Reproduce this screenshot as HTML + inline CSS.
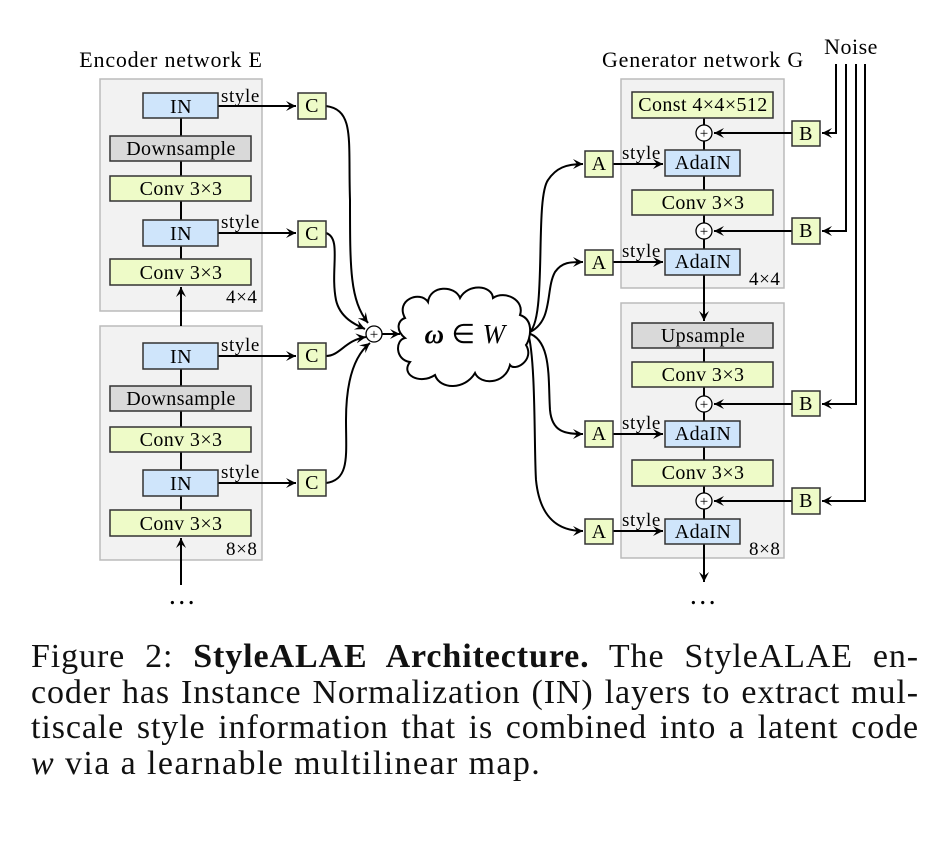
<!DOCTYPE html>
<html><head><meta charset="utf-8"><style>
body{margin:0;background:#fff;width:948px;height:856px;overflow:hidden}
svg{position:absolute;left:0;top:0}
.cap{position:absolute;left:31px;top:639px;width:888px;font-family:'Liberation Serif','Times New Roman',serif;font-size:34px;letter-spacing:0.9px;line-height:35.5px;color:#111}
.cap div{text-align:justify;text-align-last:justify;white-space:nowrap}
.cap div.l{text-align-last:left;letter-spacing:1.4px}
svg text{font-family:'Liberation Serif','Times New Roman',serif}
</style></head><body>
<svg width="948" height="640" viewBox="0 0 948 640" font-size="20" letter-spacing="0.4">
<defs><marker id="ar" markerWidth="12" markerHeight="12" refX="10" refY="6" orient="auto" markerUnits="userSpaceOnUse"><path d="M0,1 L10,6 L0,11 L4,6 Z" fill="#000"/></marker></defs>
<g stroke="#bbb" stroke-width="1.5" fill="#f2f2f2">
<rect x="100" y="79" width="162" height="232"/><rect x="100" y="326" width="162" height="234"/>
<rect x="621" y="79" width="163" height="209"/><rect x="621" y="303" width="163" height="255"/>
</g>
<g fill="none" stroke="#000" stroke-width="2">
<line x1="181" y1="118" x2="181" y2="285"/><line x1="181" y1="326" x2="181" y2="287" marker-end="url(#ar)"/>
<line x1="181" y1="369" x2="181" y2="536"/><line x1="181" y1="585" x2="181" y2="538" marker-end="url(#ar)"/>
<line x1="704" y1="118" x2="704" y2="275"/><line x1="704" y1="275" x2="704" y2="321" marker-end="url(#ar)"/>
<line x1="704" y1="348" x2="704" y2="544"/><line x1="704" y1="544" x2="704" y2="582" marker-end="url(#ar)"/>
<line x1="218" y1="106" x2="296" y2="106" marker-end="url(#ar)"/>
<line x1="218" y1="233" x2="296" y2="233" marker-end="url(#ar)"/>
<line x1="218" y1="356" x2="296" y2="356" marker-end="url(#ar)"/>
<line x1="218" y1="483" x2="296" y2="483" marker-end="url(#ar)"/>
<path d="M326,106 C355,110 348,140 350,200 C350,270 350,300 368,323" marker-end="url(#ar)"/>
<path d="M326,233 C342,238 330,270 336,300 C340,318 356,325 365,329" marker-end="url(#ar)"/>
<path d="M326,356 C340,356 345,340 366,337" marker-end="url(#ar)"/>
<path d="M326,483 C350,480 346,455 346,420 C346,380 355,355 370,343" marker-end="url(#ar)"/>
<line x1="382" y1="334" x2="400" y2="334" marker-end="url(#ar)"/>
<path d="M528,333 C548,325 534,200 548,180 C556,168 566,164 583,164" marker-end="url(#ar)"/>
<path d="M528,333 C554,322 545,290 555,272 C562,262 570,262 583,262" marker-end="url(#ar)"/>
<path d="M528,333 C552,340 548,380 550,410 C552,432 565,434 583,434" marker-end="url(#ar)"/>
<path d="M528,333 C536,360 534,450 536,480 C540,520 560,531 583,531" marker-end="url(#ar)"/>
<line x1="613" y1="164" x2="663" y2="164" marker-end="url(#ar)"/>
<line x1="613" y1="262" x2="663" y2="262" marker-end="url(#ar)"/>
<line x1="613" y1="434" x2="663" y2="434" marker-end="url(#ar)"/>
<line x1="613" y1="531" x2="663" y2="531" marker-end="url(#ar)"/>
<line x1="792" y1="133" x2="714" y2="133" marker-end="url(#ar)"/>
<line x1="792" y1="231" x2="714" y2="231" marker-end="url(#ar)"/>
<line x1="792" y1="404" x2="714" y2="404" marker-end="url(#ar)"/>
<line x1="792" y1="501" x2="714" y2="501" marker-end="url(#ar)"/>
<path d="M836,64 V133 H822" marker-end="url(#ar)"/>
<path d="M846,64 V231 H822" marker-end="url(#ar)"/>
<path d="M856,64 V404 H822" marker-end="url(#ar)"/>
<path d="M865,64 V501 H822" marker-end="url(#ar)"/>
</g>
<g stroke="#333" stroke-width="1.5">
<g fill="#cfe5fb"><rect x="143" y="93" width="75" height="25"/><rect x="143" y="220" width="75" height="26"/><rect x="143" y="343" width="75" height="26"/><rect x="143" y="470" width="75" height="26"/>
<rect x="665" y="150" width="75" height="26"/><rect x="665" y="249" width="75" height="26"/><rect x="665" y="421" width="75" height="26"/><rect x="665" y="519" width="75" height="25"/></g>
<g fill="#d9d9d9"><rect x="110" y="136" width="141" height="25"/><rect x="110" y="386" width="141" height="25"/><rect x="632" y="323" width="141" height="25"/></g>
<g fill="#eefbc8"><rect x="110" y="176" width="141" height="25"/><rect x="110" y="259" width="141" height="26"/><rect x="110" y="427" width="141" height="25"/><rect x="110" y="510" width="141" height="26"/>
<rect x="632" y="92" width="141" height="26"/><rect x="632" y="190" width="141" height="25"/><rect x="632" y="362" width="141" height="25"/><rect x="632" y="460" width="141" height="26"/>
<rect x="298" y="93" width="28" height="26"/><rect x="298" y="221" width="28" height="26"/><rect x="298" y="343" width="28" height="26"/><rect x="298" y="470" width="28" height="26"/>
<rect x="585" y="151" width="28" height="26"/><rect x="585" y="250" width="28" height="25"/><rect x="585" y="421" width="28" height="26"/><rect x="585" y="519" width="28" height="25"/>
<rect x="792" y="121" width="28" height="25"/><rect x="792" y="218" width="28" height="26"/><rect x="792" y="391" width="28" height="25"/><rect x="792" y="488" width="28" height="26"/></g>
</g>
<g fill="#fff" stroke="#000" stroke-width="1.3"><circle cx="374" cy="334" r="8"/><circle cx="704" cy="133" r="8"/><circle cx="704" cy="231" r="8"/><circle cx="704" cy="404" r="8"/><circle cx="704" cy="501" r="8"/></g>
<g font-size="15" text-anchor="middle" letter-spacing="0"><text x="374" y="339">+</text><text x="704" y="138">+</text><text x="704" y="236">+</text><text x="704" y="409">+</text><text x="704" y="506">+</text></g>
<path fill="#fff" stroke="#000" stroke-width="2" d="M405,318 C395,300 420,290 428,302 C430,285 455,285 460,298 C468,283 492,285 493,298 C505,290 525,300 520,315 C535,320 530,340 526,345 C535,360 515,372 510,365 C505,385 480,385 475,373 C465,390 440,390 435,375 C420,385 400,375 410,362 C395,360 395,340 405,338 C395,330 398,320 405,318 Z"/>
<text x="465" y="343" font-size="27" text-anchor="middle"><tspan font-weight="bold" font-style="italic">ω</tspan> ∈ <tspan font-style="italic">W</tspan></text>
<g text-anchor="middle">
<text x="181" y="113">IN</text><text x="181" y="155">Downsample</text><text x="181" y="195">Conv 3×3</text><text x="181" y="240">IN</text><text x="181" y="279">Conv 3×3</text>
<text x="181" y="363">IN</text><text x="181" y="405">Downsample</text><text x="181" y="446">Conv 3×3</text><text x="181" y="490">IN</text><text x="181" y="530">Conv 3×3</text>
<text x="312" y="112">C</text><text x="312" y="240">C</text><text x="312" y="362">C</text><text x="312" y="489">C</text>
<text x="599" y="170">A</text><text x="599" y="269">A</text><text x="599" y="440">A</text><text x="599" y="538">A</text>
<text x="806" y="140">B</text><text x="806" y="237">B</text><text x="806" y="410">B</text><text x="806" y="507">B</text>
<text x="703" y="111">Const 4×4×512</text><text x="703" y="169">AdaIN</text><text x="703" y="209">Conv 3×3</text><text x="703" y="268">AdaIN</text>
<text x="703" y="342">Upsample</text><text x="703" y="381">Conv 3×3</text><text x="703" y="440">AdaIN</text><text x="703" y="479">Conv 3×3</text><text x="703" y="538">AdaIN</text>
<text x="171" y="67" font-size="22" letter-spacing="0.8">Encoder network E</text><text x="703" y="67" font-size="22" letter-spacing="0.8">Generator network G</text><text x="851" y="54" font-size="22" letter-spacing="0.5">Noise</text>
<text x="182" y="604" font-size="28">…</text><text x="703" y="604" font-size="28">…</text>
</g>
<g font-size="19" letter-spacing="0.6"><text x="221" y="102">style</text><text x="221" y="228">style</text><text x="221" y="351">style</text><text x="221" y="478">style</text>
<text x="622" y="159">style</text><text x="622" y="257">style</text><text x="622" y="429">style</text><text x="622" y="526">style</text>
<text x="226" y="303">4×4</text><text x="226" y="555">8×8</text><text x="749" y="285">4×4</text><text x="749" y="555">8×8</text></g>
</svg>
<div class="cap">
<div>Figure 2: <b>StyleALAE Architecture.</b> The StyleALAE en-</div>
<div>coder has Instance Normalization (IN) layers to extract mul-</div>
<div>tiscale style information that is combined into a latent code</div>
<div class="l"><i>w</i> via a learnable multilinear map.</div>
</div>
</body></html>
